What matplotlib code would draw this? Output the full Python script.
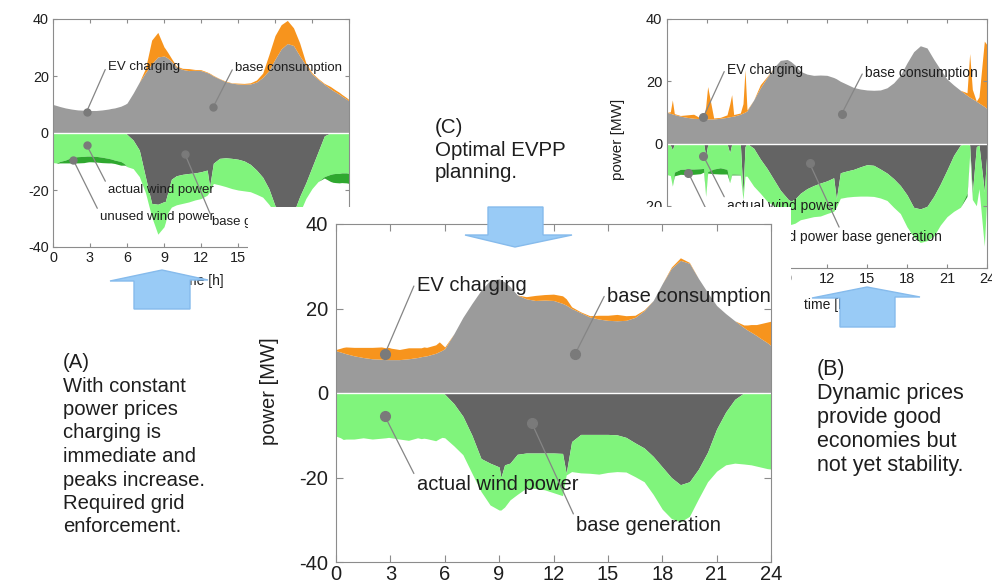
import numpy as np
import matplotlib.pyplot as plt
from matplotlib.patches import Polygon, Rectangle

plt.rcParams['font.family'] = ['Liberation Sans', 'DejaVu Sans']
plt.rcParams['axes.unicode_minus'] = False

# time of day [h], shared by the three scenarios
hours = [0, 0.25, 0.4, 0.55, 1, 1.5, 2, 2.5, 2.75, 2.9, 3.05, 3.5, 4, 4.5, 4.7, 4.85, 5, 5.5, 5.7, 5.85,
         6, 6.5, 7, 7.5, 8, 8.5, 9, 9.1, 9.3, 9.6, 10, 10.5, 11, 11.5, 12, 12.5, 12.7, 13, 13.5, 14,
         14.5, 15, 15.5, 16, 16.5, 17, 17.5, 18, 18.5, 19, 19.5, 20, 20.5, 21, 21.5, 22, 22.5, 22.7, 22.9, 23.2,
         23.4, 23.8, 24]

# base consumption [MW] (same in all scenarios)
base_consumption = [10.0, 9.7, 9.5, 9.3, 8.8, 8.4, 8.1, 8.0, 7.9, 7.9, 7.9, 7.9, 8.1, 8.4, 8.6, 8.7, 8.8, 9.4, 9.8, 10.1,
                    10.5, 14.0, 17.9, 21.2, 24.3, 26.7, 27.0, 26.8, 26.3, 25.2, 23.2, 22.3, 21.9, 22.0, 21.9, 21.2, 20.8, 20.0, 19.0, 18.0,
                    17.5, 17.2, 17.1, 17.2, 17.9, 19.5, 21.9, 25.9, 29.5, 31.4, 30.7, 27.1, 23.8, 20.7, 18.8, 17.1, 15.5, 14.9, 14.4, 13.6,
                    13.0, 11.9, 11.2]

# (A) constant prices
ev_a = [0] * 20 + \
       [0, 0, 0, 1.5, 8.3, 8.6, 3.2, 2.8, 2.0, 1.0, 0.3, 0.4, 0.7, 0.3, 0.3, 0.2, 0.2, 0.2, 0.1, 0.2,
        0.1, 0.3, 0.3, 0.4, 0.7, 1.5, 5.5, 8.3, 8.5, 8.1, 6.2, 4.5, 0.8, 0.4, 0.3, 0.3, 0.8, 0.8, 0.7, 0.7,
        0.6, 0.5, 0.5]
gen_a = [0] * 20 + \
        [-0.5, -2.5, -6.0, -15.5, -24.7, -25.0, -24.1, -24.1, -21.0, -16.2, -15.0, -14.5, -14.2, -14.0, -13.6, -13.0, -18.8, -10.6, -8.9, -8.7,
         -8.9, -9.2, -9.8, -11.0, -13.0, -15.5, -19.5, -25.5, -28.0, -29.0, -28.0, -22.3, -17.5, -12.0, -6.5, -1.0, 0, 0, 0, 0,
         0, 0, 0]
wind_a = [10.4, 10.5, 10.3, 10.0, 9.5, 8.6, 8.3, 8.2, 8.1, 8.1, 8.1, 8.2, 8.5, 8.9, 9.1, 9.3, 9.5, 10.0, 10.5, 11.0,
          11.3, 10.0, 9.3, 5.5, 4.7, 10.5, 8.8, 7.4, 7.0, 9.8, 10.2, 10.2, 10.0, 9.5, 9.4, 8.8, 1.7, 7.1, 9.3, 10.1,
          10.6, 10.8, 10.5, 9.6, 8.5, 7.0, 5.5, 2.5, 3.0, 4.0, 4.0, 5.7, 5.5, 7.5, 10.5, 14.3, 14.5, 14.3, 14.2, 14.2,
          14.0, 14.0, 14.2]
unused_a = [0, 0, 0.3, 0.5, 1.0, 1.9, 2.2, 2.2, 2.1, 2.0, 2.0, 2.0, 1.9, 1.6, 1.4, 1.3, 1.2, 1.3, 0.8, 0.3] + \
           [0] * 35 + [0.5, 2.5, 3.0, 3.2, 3.3, 3.4, 3.5, 3.5]

# (B) dynamic prices
ev_b = [0, 0.5, 4.5, 0.3, 0.2, 0.8, 1.3, 0.2, 0.3, 4.0, 10.4, 0.3, 0.3, 0.8, 4.0, 7.0, 0.5, 0.4, 3.0, 13.6,
        0.3, 0, 1.0, 0.3] + [0] * 32 + [0.8, 14.0, 3.0, 0, 2.0, 21.0, 20.5]
gen_b = [0, -0.5, -2.0, -0.2, 0, 0, 0, 0, 0, -4.0, -0.5, 0, 0, 0, -3.0, -0.3, 0, 0, -16.3, -1.0,
         0, -1.5, -5.0, -8.0, -11.5, -15.0, -17.5, -18.0, -18.5, -17.8, -16.0, -14.5, -13.5, -12.7, -12.0, -11.0, -17.9, -9.4, -8.8, -8.3,
         -7.5, -6.8, -7.0, -8.2, -9.5, -11.3, -13.5, -16.5, -20.5, -21.0, -20.2, -17.0, -13.0, -8.5, -3.8, -0.5, 0, -0.5, -16.0, -1.0,
         -0.5, -15.5, -2.0]
wind_b = [10.0, 9.8, 11.7, 9.0, 8.3, 8.2, 8.2, 8.1, 8.0, 13.0, 8.5, 8.2, 7.8, 8.3, 9.6, 9.5, 9.8, 9.9, 1.7, 9.5,
          10.5, 12.2, 11.0, 10.5, 8.5, 6.8, 7.0, 7.5, 7.5, 7.8, 8.5, 9.5, 10.0, 10.6, 10.5, 10.8, 2.5, 8.2, 8.4, 8.7,
          9.4, 10.1, 10.0, 9.3, 8.8, 9.2, 9.0, 10.3, 9.5, 10.8, 11.0, 12.8, 13.2, 15.0, 18.0, 20.0, 16.0, 3.0, 2.0, 19.0,
          14.0, 17.5, 14.0]
unused_b = [0, 0, 0, 1.2, 1.6, 1.8, 1.7, 1.6, 1.2, 0, 0.5, 1.5, 2.0, 1.5, 0, 0.3, 0.3, 0.2, 0, 0] + \
           [0] * 36 + [1.0, 0, 0, 0, 0, 0, 0]

# (C) optimal EVPP planning
ev_c = [0.3, 0.9, 1.3, 1.6, 2.0, 2.4, 2.7, 2.9, 2.8, 2.9, 2.7, 2.4, 2.6, 2.3, 2.1, 2.2, 2.0, 2.0, 2.3, 1.4,
        0.4, 0, 0, 0, 0, 0, 0, 0, 0, 0, 0, 0.5, 1.2, 1.3, 1.5, 1.8, 1.5, 0.4, 0.2, 0.3,
        0.9, 1.2, 1.5, 1.1, 0.5, 0.2, 0, 0, 0.3, 0.6, 0.2, 0, 0, 0, 0, 0, 0.6, 1.2, 1.8, 2.6,
        3.4, 4.9, 5.8]
gen_c = [0] * 20 + \
        [-0.3, -2.5, -5.5, -10.0, -15.5, -16.6, -17.5, -20.0, -17.0, -16.6, -14.5, -14.2, -14.2, -14.2, -14.2, -14.3, -19.0, -11.5, -9.8, -9.8,
         -9.8, -9.8, -9.9, -10.5, -11.8, -13.0, -15.0, -17.5, -20.0, -21.7, -21.0, -18.0, -14.0, -8.5, -4.5, -1.5, 0, 0, 0, 0,
         0, 0, 0]
wind_c = [10.2, 10.6, 11.0, 10.9, 10.9, 10.6, 10.9, 10.7, 10.6, 10.5, 10.6, 10.9, 11.2, 10.6, 10.8, 10.7, 10.8, 11.3, 10.8, 10.5,
          10.3, 10.0, 9.1, 9.0, 7.8, 9.9, 10.2, 7.7, 10.0, 8.7, 9.5, 8.3, 8.4, 8.7, 9.4, 10.0, 0.4, 7.1, 9.1, 9.2,
          9.4, 9.0, 8.7, 8.2, 8.0, 8.0, 9.0, 10.0, 9.7, 8.8, 8.2, 7.0, 7.0, 10.0, 12.5, 15.1, 16.8, 16.9, 17.0, 17.3,
          17.5, 17.9, 18.0]

GREY = '#9b9b9b'
DARK = '#646464'
ORANGE = '#f7941d'
GREEN = '#80f47c'
DKGREEN = '#2fa82f'
BLUE = '#99cbf6'
FRAME = '#8c8c8c'
DOT = '#7a7a7a'
INK = '#1e1e1e'

W, H = 992, 588
fig = plt.figure(figsize=(W / 100, H / 100), dpi=100)


def rect(x0, y0, x1, y1):
    # pixel box (top-left origin) -> figure fraction
    return [x0 / W, 1 - y1 / H, (x1 - x0) / W, (y1 - y0) / H]


def draw_panel(ax, ev, gen, wind, unused, fs, tick_len, xpad, ypad):
    t = np.array(hours)
    cons = np.array(base_consumption)
    gen = np.array(gen)
    low = gen - np.array(wind)
    ax.fill_between(t, 0, cons, color=GREY, lw=0)
    ax.fill_between(t, cons, cons + np.array(ev), color=ORANGE, lw=0)
    ax.fill_between(t, gen, 0, color=DARK, lw=0)
    ax.fill_between(t, low, gen, color=GREEN, lw=0)
    if unused is not None:
        ax.fill_between(t, low - np.array(unused), low, color=DKGREEN, lw=0)
    ax.axhline(0, color='white', lw=1)
    ax.set_xlim(0, 24)
    ax.set_ylim(-40, 40)
    ax.set_xticks(range(0, 25, 3))
    ax.set_yticks(range(-40, 41, 20))
    ax.tick_params(direction='in', top=True, right=True, length=tick_len, color=FRAME,
                   labelcolor=INK, labelsize=fs)
    ax.tick_params(axis='x', pad=xpad)
    ax.tick_params(axis='y', pad=ypad)
    for s in ax.spines.values():
        s.set_color(FRAME)


def add_labels(ax, labels, fs, ms):
    for text, dot, pos in labels:
        ax.plot(*dot, 'o', color=DOT, ms=ms, zorder=4)
        ax.annotate(text, xy=dot, xytext=pos, fontsize=fs, color=INK, ha='left', va='center',
                    arrowprops=dict(arrowstyle='-', color='#858585', lw=0.9,
                                    shrinkA=0, shrinkB=0, relpos=(0, 0.8)))


# (A) upper left
ax_a = fig.add_axes(rect(53, 19, 349, 247), zorder=0)
draw_panel(ax_a, ev_a, gen_a, wind_a, unused_a, 10.4, 3, 3, 3)
ax_a.set_xlabel('time [h]', fontsize=10, color=INK)
ax_a.xaxis.set_label_coords(0.5, -0.12)
add_labels(ax_a, [('EV charging', (2.73, 7.5), (4.46, 23.2)),
                  ('base consumption', (13.0, 9.2), (14.76, 22.8)),
                  ('actual wind power', (2.73, -4.2), (4.46, -20.0)),
                  ('unused wind power', (1.65, -9.5), (3.8, -29.5)),
                  ('base generation', (10.7, -7.4), (12.9, -31.2))], 9.5, 5)

# (B) upper right
ax_b = fig.add_axes(rect(667, 19, 987, 268), zorder=0)
draw_panel(ax_b, ev_b, gen_b, wind_b, unused_b, 10.5, 3, 3, 3.5)
ax_b.set_xlabel('time [h]', fontsize=10, color=INK)
ax_b.xaxis.set_label_coords(0.5, -0.12)
ax_b.set_ylabel('power [MW]', fontsize=11, color=INK)
ax_b.yaxis.set_label_coords(-0.131, 0.516)
add_labels(ax_b, [('EV charging', (2.73, 8.5), (4.5, 23.7)),
                  ('base consumption', (13.1, 9.5), (14.85, 22.7)),
                  ('actual wind power', (2.73, -4.0), (4.5, -20.2)),
                  ('unused wind power', (1.6, -9.4), (3.8, -30.0)),
                  ('base generation', (10.7, -6.4), (13.1, -30.0))], 10, 5.5)

# white sheet carrying panel (C)
fig.add_artist(Rectangle((248 / W, 0), (791 - 248) / W, (H - 207) / H, transform=fig.transFigure,
                         facecolor='white', edgecolor='none', zorder=1))

# (C) main panel
ax_c = fig.add_axes(rect(336, 224, 771, 562), zorder=2)
draw_panel(ax_c, ev_c, gen_c, wind_c, None, 14.5, 5, 2, 5.5)
ax_c.set_ylabel('power [MW]', fontsize=14.5, color=INK)
ax_c.yaxis.set_label_coords(-0.131, 0.506)
add_labels(ax_c, [('EV charging', (2.7, 9.3), (4.45, 25.5)),
                  ('base consumption', (13.2, 9.3), (14.95, 22.8)),
                  ('actual wind power', (2.7, -5.5), (4.45, -21.7)),
                  ('base generation', (10.8, -7.1), (13.25, -31.4))], 14.5, 7)

# block arrows
arrows = [
    [(162, 270), (208, 280), (190, 280), (190, 309), (134, 309), (134, 281), (110, 281)],
    [(867, 287), (920, 297), (895, 297), (895, 327), (840, 327), (840, 298), (812, 298)],
    [(488, 207), (543, 207), (543, 235), (572, 235), (515, 247), (465, 235), (488, 235)],
]
for pts in arrows:
    fig.add_artist(Polygon([(x / W, 1 - y / H) for x, y in pts], closed=True, transform=fig.transFigure,
                           facecolor=BLUE, edgecolor='#86bbec', lw=1, zorder=5))

# scenario captions
captions = [
    (63, 368, 23.5, 14.6, ['(A)', 'With constant', 'power prices', 'charging is', 'immediate and',
                           'peaks increase.', 'Required grid', 'enforcement.']),
    (817, 375, 24.0, 15.5, ['(B)', 'Dynamic prices', 'provide good', 'economies but', 'not yet stability.']),
    (435, 133, 22.5, 14.8, ['(C)', 'Optimal EVPP', 'planning.']),
]
for x0, y0, step, fs, lines in captions:
    for i, line in enumerate(lines):
        fig.text(x0 / W, 1 - (y0 + i * step) / H, line, fontsize=fs, color=INK,
                 ha='left', va='baseline', zorder=6)

fig.savefig('out.png', dpi=100, facecolor='white')
